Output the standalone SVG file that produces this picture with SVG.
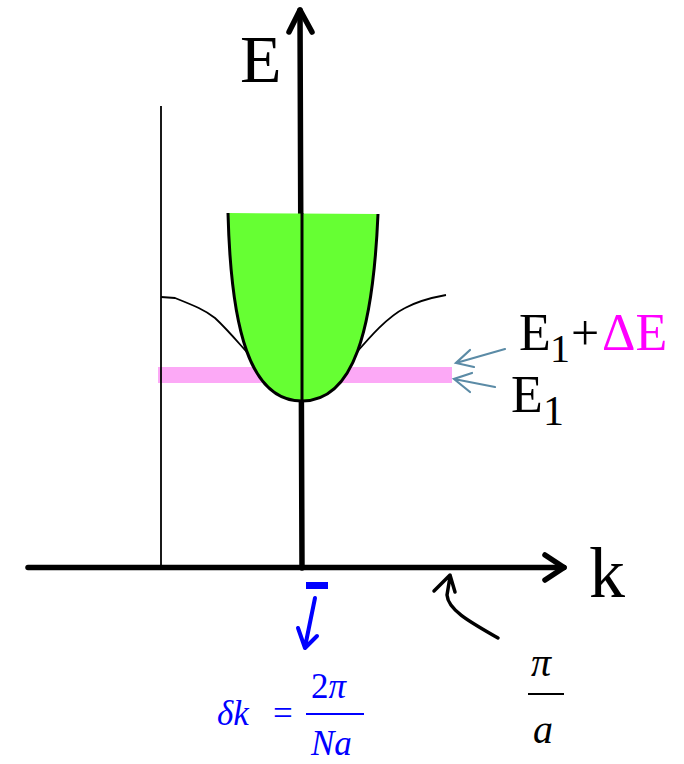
<svg xmlns="http://www.w3.org/2000/svg" width="684" height="764" viewBox="0 0 684 764">
<style>
text{font-family:'Liberation Serif','Times New Roman',Times,serif;}
.ax{stroke:#000;stroke-width:5.5;fill:none;stroke-linecap:round;stroke-linejoin:round}
.thin{stroke:#000;stroke-width:1.8;fill:none}
.sb{stroke:#5B8BA6;stroke-width:2.2;fill:none;stroke-linecap:round}
</style>
<rect width="684" height="764" fill="#fff"/>
<g id="band">
<rect x="158" y="367" width="294" height="16" fill="#FCA9F6"/>
<path class="thin" d="M161,297 L175,298 C195,306 205,310 215,318 C230,332 240,345 254,360"/>
<path class="thin" d="M350,360 C365,343 385,318 405,308 C420,300 435,297 446,295"/>
</g>
<g id="connectors">
<line class="thin" x1="161" y1="106" x2="161" y2="568"/>
<path class="ax" d="M302,568 L300,10"/>
<path class="ax" d="M289,32 L300,10 L312,32"/>
<path class="ax" d="M28,567.5 L564,567.5"/>
<path class="ax" d="M545,555 L564,567.5 L545,580"/>
<path class="sb" d="M505,349 L456,363 M470,350 L456,363 L474,367"/>
<path class="sb" d="M495,387 L454,379 M472,373 L454,379 L470,392"/>
<path d="M315,598 L305,647 M298,628 L305,648 L317,636" stroke="#0000FF" stroke-width="4" fill="none" stroke-linecap="round" stroke-linejoin="round"/>
<path d="M498,638 C470,622 448,610 447,595 L450,577 M434,591 L450,575 L455,592" stroke="#000" stroke-width="3.5" fill="none" stroke-linecap="round" stroke-linejoin="round"/>
</g>
<g id="parabola">
<path d="M228,213 C231,330 250,401 302,401 C354,401 373,330 378,214 Z" fill="#66FF33" stroke="none"/>
<path d="M228,213 C231,330 250,401 302,401 C354,401 373,330 378,214" fill="none" stroke="#000" stroke-width="3"/>
<line x1="302" y1="213" x2="302" y2="401" stroke="#000" stroke-width="3"/>
</g>
<g id="labels">
<text x="240" y="82" font-size="68">E</text>
<text x="589" y="597" font-size="72">k</text>
<text x="519" y="350" font-size="52">E</text>
<text x="550" y="362" font-size="40">1</text>
<text x="571" y="350" font-size="50">+</text>
<text x="602" y="350" font-size="52" fill="#FF00FF">ΔE</text>
<text x="511" y="412" font-size="52">E</text>
<text x="543" y="425" font-size="42">1</text>
</g>
<g id="deltak">
<rect x="306" y="582" width="22" height="7" fill="#0000FF"/>
<text x="217" y="725" font-size="35" font-style="italic" fill="#0000FF">δk</text>
<text x="273" y="725" font-size="35" fill="#0000FF">=</text>
<text x="311" y="698" font-size="35" fill="#0000FF">2<tspan font-style="italic">π</tspan></text>
<line x1="306" y1="714" x2="364" y2="714" stroke="#0000FF" stroke-width="2"/>
<text x="311" y="755" font-size="35" font-style="italic" fill="#0000FF">Na</text>
</g>
<g id="pia">
<text x="531" y="676" font-size="40" font-style="italic">π</text>
<line x1="528" y1="694" x2="564" y2="694" stroke="#000" stroke-width="2"/>
<text x="533" y="743" font-size="40" font-style="italic">a</text>
</g>
</svg>
